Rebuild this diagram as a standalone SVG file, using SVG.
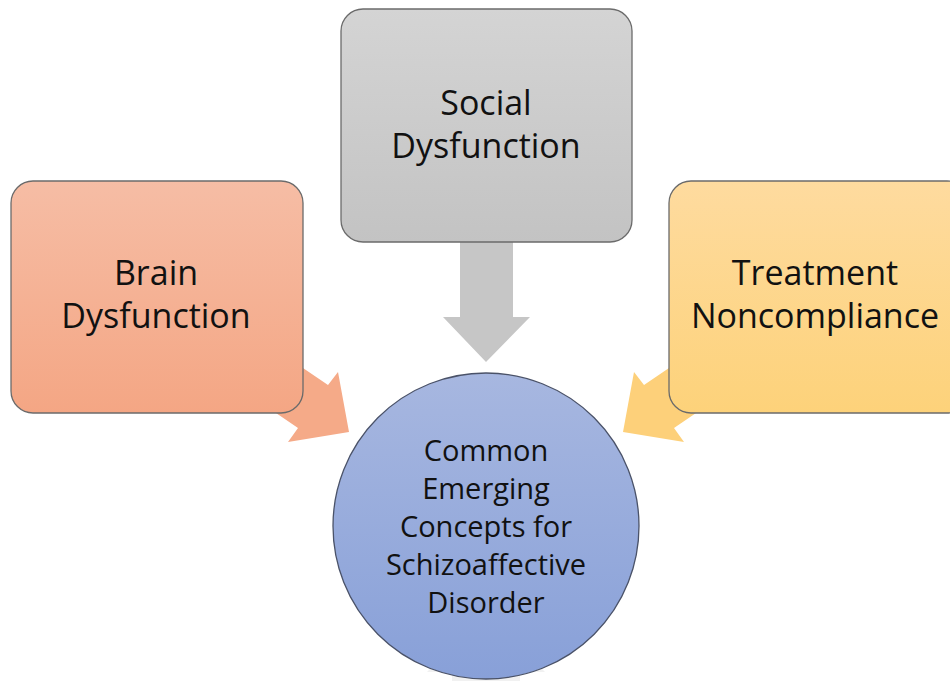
<svg xmlns="http://www.w3.org/2000/svg" width="950" height="681" viewBox="0 0 950 681">
<defs>
<linearGradient id="gGray" x1="0" y1="0" x2="0" y2="1"><stop offset="0" stop-color="#d4d4d4"/><stop offset="1" stop-color="#c3c3c3"/></linearGradient>
<linearGradient id="gOrange" x1="0" y1="0" x2="0" y2="1"><stop offset="0" stop-color="#f6bda5"/><stop offset="1" stop-color="#f4a684"/></linearGradient>
<linearGradient id="gYellow" x1="0" y1="0" x2="0" y2="1"><stop offset="0" stop-color="#fedb9f"/><stop offset="1" stop-color="#fdd27a"/></linearGradient>
<linearGradient id="gBlue" x1="0" y1="0" x2="0" y2="1"><stop offset="0" stop-color="#a7b7e0"/><stop offset="1" stop-color="#88a0d8"/></linearGradient>
<style>
.box{stroke:#6b6b6b;stroke-width:1.3}
.lbl{font-family:"Open Sans","Liberation Sans",sans-serif;font-size:34px;fill:#111;text-anchor:middle}
.clbl{font-family:"Open Sans","Liberation Sans",sans-serif;font-size:29px;fill:#111;text-anchor:middle}
</style>
</defs>
<rect width="950" height="681" fill="#fff"/>
<g id="connectors">
<polygon points="486,612 545,672 520,672 520,681 452,681 452,672 427,672" fill="#f1f1f1"/>
<polygon points="460,230 513,230 513,317 530,317 486,362 443,317 460,317" fill="#c6c6c6"/>
<polygon points="253,334 328,385 338,372 349,432 288,442 298,428 248,394" fill="#f5aa88"/>
<polygon points="719,334 644,385 634,372 623,432 684,442 674,428 724,394" fill="#fdd07a"/>
</g>
<g id="social">
<rect class="box" x="341" y="9" width="291" height="233" rx="22" fill="url(#gGray)"/>
<text class="lbl" x="486" y="115">Social</text>
<text class="lbl" x="486" y="158">Dysfunction</text>
</g>
<g id="brain">
<rect class="box" x="11" y="181" width="292" height="232" rx="22" fill="url(#gOrange)"/>
<text class="lbl" x="156" y="285">Brain</text>
<text class="lbl" x="156" y="328">Dysfunction</text>
</g>
<g id="treatment">
<rect class="box" x="669" y="181" width="300" height="232" rx="22" fill="url(#gYellow)"/>
<text class="lbl" x="815" y="285">Treatment</text>
<text class="lbl" x="815" y="328">Noncompliance</text>
</g>
<g id="center">
<circle cx="486" cy="526" r="153" fill="url(#gBlue)" stroke="#4a5268" stroke-width="1.3"/>
<text class="clbl" x="486" y="461">Common</text>
<text class="clbl" x="486" y="499">Emerging</text>
<text class="clbl" x="486" y="537">Concepts for</text>
<text class="clbl" x="486" y="575">Schizoaffective</text>
<text class="clbl" x="486" y="613">Disorder</text>
</g>
</svg>
